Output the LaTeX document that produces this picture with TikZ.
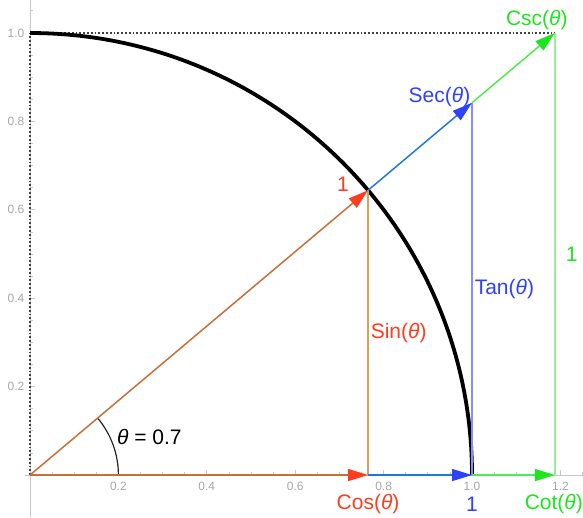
\documentclass[tikz,border=0pt]{standalone}
\usepackage{fontspec}
\setmainfont{Liberation Sans}
\usetikzlibrary{arrows.meta, calc}
\definecolor{redtxt}{RGB}{255,60,30}
\definecolor{bluetxt}{RGB}{45,65,255}
\definecolor{greentxt}{RGB}{30,230,30}
\definecolor{hypline}{RGB}{200,110,55}
\definecolor{sinline}{RGB}{215,160,90}
\definecolor{secline}{RGB}{30,120,220}
\definecolor{tanline}{RGB}{135,140,255}
\definecolor{cscline}{RGB}{80,235,80}
\definecolor{cotline}{RGB}{150,240,150}
\tikzset{every node/.append style={font=\fontsize{21}{23}\selectfont},
  axis/.style={draw=black!22, line width=0.8pt},
  ticklbl/.style={text=black!35, inner sep=1pt, font=\fontsize{12}{13}\selectfont},
  redhead/.style={-{Triangle[length=20pt,width=12pt,color=redtxt]}},
  bluehead/.style={-{Triangle[length=20pt,width=12pt,color=bluetxt]}},
  greenhead/.style={-{Triangle[length=20pt,width=12pt,color=greentxt]}},
  guide/.style={draw=black!75, line width=1.8pt, dash pattern=on 1.8pt off 2pt}}

\begin{document}
\begin{tikzpicture}[x=442pt, y=442pt, line width=1.5pt]
    \useasboundingbox (-0.0679,-0.0950) rectangle (1.2511,1.0747);
    \pgfmathsetmacro\cs{cos(0.7 r)}
    \pgfmathsetmacro\sn{sin(0.7 r)}
    \pgfmathsetmacro\tn{tan(0.7 r)}
    \pgfmathsetmacro\ct{1/\tn}
    \coordinate (O) at (0,0);
    \coordinate (Y) at (0,1);
    \coordinate (P) at (\cs,\sn);
    \coordinate (C) at (\cs,0);
    \coordinate (E) at (1,0);
    \coordinate (T) at (1,\tn);
    \coordinate (K) at (\ct,0);
    \coordinate (S) at (\ct,1);
    % axes and ticks
    \draw[axis] (-0.012,0) -- (1.2511,0);
    \draw[axis] (0,-0.0950) -- (0,1.0747);
    \foreach \i in {1,...,25} {\draw[axis] (\i*0.05,0) -- ++(0,0.006);}
    \foreach \i in {1,...,21} {\draw[axis] (0,\i*0.05) -- ++(0.006,0);}
    \foreach \v [count=\i] in {0.2,0.4,0.6,0.8,1.0,1.2} {
        \draw[axis] (\v,0) -- ++(0,0.012);
        \node[ticklbl, yshift=-11pt] (xt\i) at (\v,0) {\v};}
    \foreach \v [count=\i] in {0.2,0.4,0.6,0.8,1.0} {
        \draw[axis] (0,\v) -- ++(0.012,0);
        \node[ticklbl, anchor=east, xshift=-4pt] (yt\i) at (0,\v) {\v};}
    % dotted guides
    \draw[guide] (O) -- (Y);
    \draw[guide] (Y) -- (S);
    % unit circle
    \draw[line width=3.8pt] (Y) arc[start angle=90, end angle=0, radius=1];
    % angle
    \draw[black!85, line width=1.2pt] (0.2,0) arc[start angle=0, end angle=40.107, radius=0.2];
    \node (ang) at (0.270,0.086) {\textit{θ} = 0.7};
    % segments
    \draw[sinline] (C) -- (P);
    \draw[tanline] (E) -- (T);
    \draw[cotline] (K) -- (S);
    \draw[hypline, redhead] (O) -- (P);
    \draw[hypline, redhead] (O) -- (C);
    \draw[secline, bluehead] (P) -- (T);
    \draw[secline, bluehead] (C) -- (E);
    \draw[cscline, greenhead] (T) -- (S);
    \draw[cscline, greenhead] (E) -- (K);
    % labels
    \node[text=redtxt, xshift=-25pt, yshift=6pt] (one1) at (P) {1};
    \node[text=redtxt, anchor=west, inner sep=2pt] (sinlbl) at ($(C)!0.5!(P)$) {Sin(\textit{θ})};
    \node[text=redtxt, inner sep=1pt, yshift=-29.5pt] (coslbl) at (C) {Cos(\textit{θ})};
    \node[text=bluetxt, inner sep=1pt, yshift=-29.5pt] (one2) at (E) {1};
    \node[text=bluetxt, anchor=west, inner sep=2pt] (tanlbl) at ($(E)!0.5!(T)$) {Tan(\textit{θ})};
    \node[text=bluetxt, anchor=east, inner sep=1pt, yshift=6pt] (seclbl) at (T) {Sec(\textit{θ})};
    \node[text=greentxt, inner sep=1pt, yshift=-29.5pt, xshift=-1pt] (cotlbl) at (K) {Cot(\textit{θ})};
    \node[text=greentxt, anchor=west, xshift=7pt] (one3) at ($(K)!0.5!(S)$) {1};
    \node[text=greentxt, xshift=-18pt, yshift=13pt] (csclbl) at (S) {Csc(\textit{θ})};
\end{tikzpicture}
\end{document}
